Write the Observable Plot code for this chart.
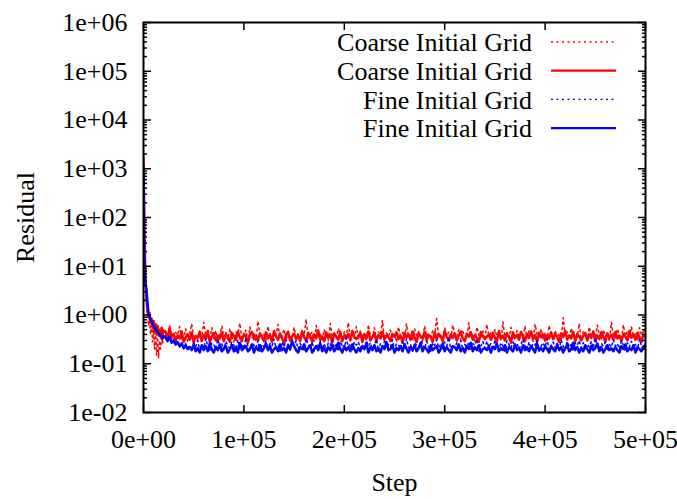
<!DOCTYPE html>
<html>
<head>
<meta charset="utf-8">
<script src="https://cdn.jsdelivr.net/npm/d3@7"></script>
<script src="https://cdn.jsdelivr.net/npm/@observablehq/plot@0.6"></script>
<style>
  html, body { margin: 0; padding: 0; background: #fff; }
</style>
</head>
<body>
<div id="chart"></div>
<script>
// Sampled solver steps: every 1000 during the initial transient, every 2000 afterwards
const stepsEarly = d3.range(0, 20001, 1000);
const stepsLate = d3.range(22000, 500001, 2000);

// Initial transient residuals (steps 0 … 20000)
const coarseDottedEarly = [1800, 30, 4, 1.8, 1.0, 0.6, 0.9, 0.4, 0.7, 0.28, 0.5, 0.2, 0.45, 0.15, 0.35, 0.13, 0.3, 0.2, 0.4, 0.25, 0.45];
const coarseSolidEarly  = [1600, 40, 5, 2.2, 1.2, 0.9, 1.1, 0.7, 0.85, 0.55, 0.75, 0.45, 0.65, 0.4, 0.6, 0.38, 0.5, 0.35, 0.55, 0.4, 0.48];
const fineDottedEarly   = [1000, 10, 4.5, 2.6, 1.3, 1.05, 0.9, 0.85, 0.7, 0.68, 0.58, 0.56, 0.5, 0.46, 0.44, 0.4, 0.42, 0.36, 0.38, 0.32, 0.35];
const fineSolidEarly    = [1100, 8, 4.5, 3.2, 1.8, 1.05, 0.95, 0.8, 0.75, 0.65, 0.6, 0.55, 0.5, 0.48, 0.45, 0.42, 0.4, 0.38, 0.36, 0.33, 0.37];

// Residuals from step 22000 on, in hundredths
const coarseDottedLate = [
  48, 31, 62, 36, 27, 44, 39, 58, 30, 35, 52, 28, 41, 66, 33, 38,
  29, 46, 34, 71, 37, 42, 30, 55, 33, 48, 27, 39, 60, 35, 44, 31,
  53, 36, 28, 45, 40, 68, 32, 37, 49, 29, 57, 34, 42, 30, 75, 38,
  35, 43, 31, 59, 36, 28, 47, 40, 64, 33, 38, 51, 30, 44, 36, 29,
  56, 34, 41, 30, 48, 37, 82, 33, 39, 45, 29, 61, 36, 42, 31, 50,
  38, 30, 67, 35, 44, 32, 53, 40, 28, 46, 37, 70, 33, 41, 35, 58,
  31, 47, 36, 42, 29, 63, 38, 34, 55, 30, 45, 39, 78, 32, 43, 36,
  49, 33, 40, 28, 57, 37, 44, 31, 66, 35, 41, 30, 52, 38, 46, 34,
  29, 60, 36, 43, 32, 48, 39, 85, 34, 40, 30, 54, 37, 45, 31, 62,
  41, 35, 50, 30, 46, 38, 33, 69, 36, 42, 29, 57, 39, 34, 47, 31,
  64, 37, 43, 32, 51, 36, 40, 30, 73, 35, 45, 33, 56, 38, 31, 48,
  36, 42, 31, 59, 34, 47, 38, 29, 65, 40, 35, 52, 33, 44, 30, 61,
  39, 33, 48, 36, 42, 30, 88, 37, 45, 32, 54, 38, 41, 35, 67, 31,
  46, 38, 30, 57, 35, 43, 33, 62, 39, 31, 50, 36, 44, 29, 71, 37,
  34, 52, 40, 31, 63, 37, 45, 33, 58, 36, 42, 30, 55, 39, 47, 35
];
const coarseSolidLate = [
  45, 33, 52, 36, 41, 29, 38, 33, 46, 28, 35, 40, 31, 43, 27, 37,
  34, 45, 29, 39, 32, 47, 28, 36, 42, 30, 38, 33, 44, 29, 40, 35,
  28, 43, 37, 31, 46, 34, 29, 41, 36, 27, 39, 45, 32, 38, 30, 42,
  35, 29, 44, 33, 40, 28, 47, 36, 31, 42, 34, 26, 39, 45, 30, 37,
  41, 32, 38, 29, 46, 35, 30, 43, 37, 28, 40, 33, 48, 31, 36, 29,
  44, 34, 39, 27, 42, 36, 31, 45, 29, 38, 33, 41, 30, 47, 35, 32,
  37, 43, 28, 40, 34, 46, 30, 36, 42, 29, 39, 33, 45, 31, 38, 35,
  29, 41, 36, 44, 32, 38, 27, 43, 35, 40, 31, 46, 34, 28, 42, 37,
  33, 45, 30, 39, 36, 28, 44, 32, 41, 37, 29, 47, 35, 31, 40, 34,
  42, 30, 38, 46, 33, 29, 41, 36, 44, 31, 39, 34, 28, 45, 37, 32,
  36, 40, 31, 43, 35, 29, 47, 33, 38, 30, 42, 36, 27, 44, 34, 39,
  31, 45, 37, 29, 41, 34, 46, 32, 39, 28, 43, 35, 40, 30, 38, 33,
  44, 32, 39, 36, 28, 42, 35, 47, 31, 38, 33, 45, 29, 41, 36, 30,
  37, 43, 30, 40, 34, 46, 29, 38, 32, 44, 36, 28, 42, 35, 39, 31,
  45, 33, 38, 29, 41, 36, 30, 47, 34, 39, 31, 43, 35, 28, 40, 37
];
const fineDottedLate = [
  38, 30, 35, 27, 32, 24, 29, 22, 27, 20, 26, 21, 24, 19, 27, 22,
  30, 19, 24, 21, 33, 23, 18, 27, 25, 20, 32, 22, 26, 19, 29, 23,
  21, 28, 24, 18, 31, 22, 26, 20, 35, 23, 19, 27, 24, 21, 30, 18,
  25, 22, 29, 19, 26, 23, 32, 20, 24, 18, 28, 22, 31, 25, 19, 27,
  23, 30, 20, 26, 22, 19, 33, 24, 21, 28, 18, 25, 23, 29, 20, 26,
  19, 27, 24, 31, 21, 25, 18, 29, 23, 20, 34, 22, 26, 19, 28, 24,
  28, 21, 25, 19, 30, 23, 27, 20, 24, 32, 18, 26, 22, 29, 21, 25,
  22, 31, 19, 26, 24, 20, 28, 23, 33, 21, 25, 18, 27, 24, 20, 30,
  26, 20, 29, 22, 18, 27, 24, 31, 21, 25, 19, 28, 23, 35, 20, 24,
  21, 27, 23, 30, 19, 25, 22, 28, 20, 26, 24, 32, 18, 23, 29, 21,
  29, 22, 26, 19, 31, 24, 20, 27, 23, 18, 30, 25, 21, 28, 22, 26,
  20, 25, 32, 23, 19, 28, 21, 26, 24, 30, 18, 23, 27, 22, 33, 19,
  24, 28, 21, 26, 20, 31, 23, 19, 29, 22, 25, 18, 27, 24, 30, 21,
  27, 19, 25, 22, 29, 21, 34, 24, 20, 26, 23, 28, 19, 25, 22, 31,
  23, 26, 20, 30, 24, 18, 27, 22, 29, 21, 25, 19, 32, 23, 20, 28
];
const fineSolidLate = [
  34, 29, 36, 27, 30, 25, 28, 23, 26, 21, 24, 20, 22, 19, 25, 18,
  21, 17, 24, 19, 23, 18, 26, 20, 17, 22, 19, 25, 18, 21, 23, 17,
  20, 24, 18, 22, 17, 27, 19, 21, 23, 18, 20, 25, 17, 22, 19, 24,
  18, 21, 26, 19, 23, 17, 20, 22, 18, 25, 19, 21, 17, 24, 20, 29,
  23, 19, 17, 22, 20, 25, 18, 21, 24, 17, 20, 23, 19, 26, 18, 21,
  17, 22, 19, 24, 18, 21, 27, 20, 17, 23, 19, 22, 18, 25, 20, 17,
  21, 18, 23, 20, 26, 17, 22, 19, 24, 18, 21, 17, 23, 20, 28, 19,
  20, 24, 17, 21, 19, 23, 18, 25, 20, 17, 22, 19, 24, 18, 21, 26,
  18, 22, 20, 17, 24, 19, 21, 23, 17, 20, 26, 18, 22, 19, 17, 23,
  22, 19, 25, 18, 21, 17, 23, 20, 27, 18, 22, 19, 24, 17, 20, 21,
  19, 23, 17, 22, 20, 26, 18, 21, 19, 24, 17, 22, 20, 18, 25, 19,
  21, 17, 24, 19, 22, 18, 23, 20, 17, 26, 19, 21, 18, 23, 20, 17,
  23, 20, 18, 25, 19, 22, 17, 21, 24, 18, 20, 27, 19, 22, 17, 21,
  18, 24, 20, 17, 23, 19, 21, 26, 18, 22, 17, 20, 24, 19, 21, 18,
  22, 19, 17, 23, 20, 25, 18, 21, 19, 24, 17, 22, 20, 18, 23, 20
];

// Series definitions, in drawing order
const seriesNames = ["Coarse Initial Grid", "Coarse Initial Grid", "Fine Initial Grid", "Fine Initial Grid"];
const seriesEarly = [coarseDottedEarly, coarseSolidEarly, fineDottedEarly, fineSolidEarly];
const seriesLate = [coarseDottedLate, coarseSolidLate, fineDottedLate, fineSolidLate];
const seriesColors = ["#ff0000", "#ff0000", "#0000ff", "#0000ff"];
const seriesDash = ["2,3.5", null, "2,3.5", null];
const seriesWidth = [1.5, 2.5, 1.5, 2.5];
const legendWidth = [1.3, 2.3, 1.3, 2.3];

// Axis ticks
const xTicks = [0, 100000, 200000, 300000, 400000, 500000];
const yTicks = [1e-2, 1e-1, 1e0, 1e1, 1e2, 1e3, 1e4, 1e5, 1e6];
const yMinorTicks = yTicks.slice(0, -1).flatMap(d => [2, 3, 4, 5, 6, 7, 8, 9].map(m => m * d));

const pad2 = n => String(n).padStart(2, "0");
const fmtY = d => {
  const e = Math.round(Math.log10(d));
  return "1e" + (e < 0 ? "-" : "+") + pad2(Math.abs(e));
};
const fmtX = d => {
  if (d === 0) return "0e+00";
  const e = Math.floor(Math.log10(d));
  return Math.round(d / Math.pow(10, e)) + "e+" + pad2(e);
};

const tables = seriesEarly.map((early, k) => [
  ...early.map((v, i) => ({step: stepsEarly[i], residual: v})),
  ...seriesLate[k].map((v, i) => ({step: stepsLate[i], residual: v / 100}))
]);

const FONT = 26;

// Legend in the upper-right corner of the frame
function legend(index, scales, values, dims) {
  const g = d3.create("svg:g");
  const right = dims.width - dims.marginRight;
  seriesNames.forEach((name, i) => {
    const y = dims.marginTop + 20 + i * 28.7;
    g.append("text")
      .attr("x", right - 113).attr("y", y)
      .attr("text-anchor", "end").attr("dy", "0.35em")
      .attr("font-size", FONT).attr("fill", "black")
      .text(name);
    g.append("line")
      .attr("x1", right - 94).attr("x2", right - 29)
      .attr("y1", y).attr("y2", y)
      .attr("stroke", seriesColors[i])
      .attr("stroke-width", legendWidth[i])
      .attr("stroke-dasharray", seriesDash[i]);
  });
  return g.node();
}

const chart = Plot.plot({
  width: 677,
  height: 499,
  marginLeft: 143,
  marginRight: 32,
  marginTop: 22,
  marginBottom: 87,
  style: {fontFamily: "'Liberation Serif', 'DejaVu Serif', serif", fontSize: FONT + "px", background: "#fff", color: "black"},
  x: {domain: [0, 500000], axis: null},
  y: {type: "log", domain: [1e-2, 1e6], axis: null},
  marks: [
    ...tables.map((t, i) => Plot.line(t, {
      x: "step", y: "residual",
      stroke: seriesColors[i],
      strokeWidth: seriesWidth[i],
      strokeDasharray: seriesDash[i],
      clip: true
    })),
    // inward ticks on all four sides
    Plot.axisY(yTicks, {anchor: "left", tickSize: 8, dx: 8, fill: "none", label: null, strokeWidth: 1.5}),
    Plot.axisY(yTicks, {anchor: "right", tickSize: 8, dx: -8, fill: "none", label: null, strokeWidth: 1.5}),
    Plot.axisY(yMinorTicks, {anchor: "left", tickSize: 4, dx: 4, fill: "none", label: null, strokeWidth: 1.5}),
    Plot.axisY(yMinorTicks, {anchor: "right", tickSize: 4, dx: -4, fill: "none", label: null, strokeWidth: 1.5}),
    Plot.axisX(xTicks, {anchor: "bottom", tickSize: 7, dy: -7, fill: "none", label: null, strokeWidth: 1.5}),
    Plot.axisX(xTicks, {anchor: "top", tickSize: 7, dy: 7, fill: "none", label: null, strokeWidth: 1.5}),
    // tick labels
    Plot.axisY(yTicks, {anchor: "left", tickSize: 0, tickPadding: 16, tickFormat: fmtY, label: null, fontSize: FONT}),
    Plot.axisX(xTicks, {anchor: "bottom", tickSize: 0, tickPadding: 17, tickFormat: fmtX, label: null, fontSize: FONT}),
    Plot.frame({stroke: "black", strokeWidth: 2}),
    // axis titles
    Plot.text(["Step"], {text: d => d, frameAnchor: "bottom", textAnchor: "middle", lineAnchor: "middle", dy: 70, fontSize: FONT}),
    Plot.text(["Residual"], {text: d => d, frameAnchor: "left", textAnchor: "middle", lineAnchor: "middle", dx: -118, rotate: -90, fontSize: FONT}),
    legend
  ]
});

document.getElementById("chart").appendChild(chart);
</script>
</body>
</html>
